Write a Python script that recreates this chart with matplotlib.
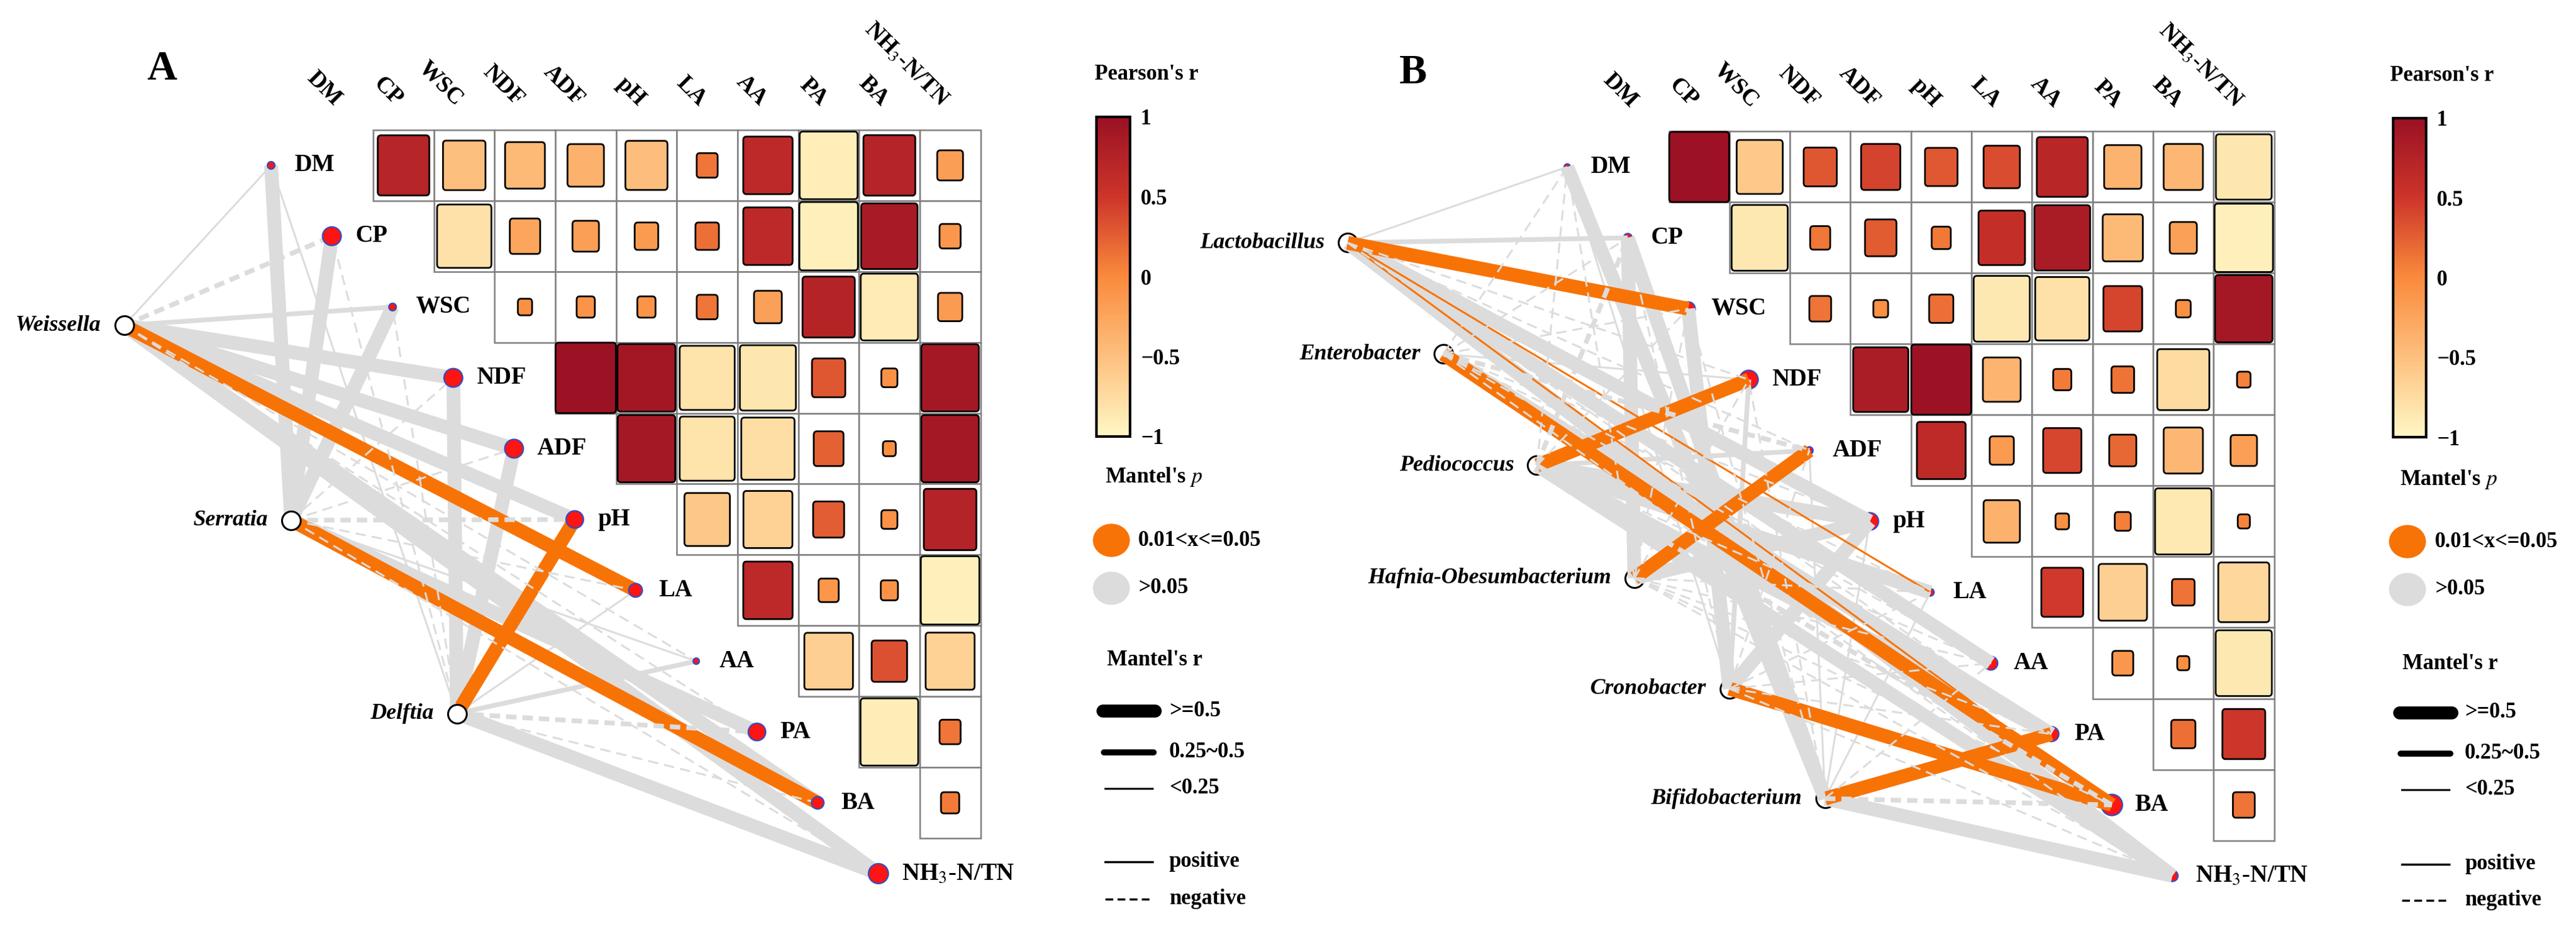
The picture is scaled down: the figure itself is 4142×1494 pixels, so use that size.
import numpy as np
import matplotlib
matplotlib.use("Agg")
import matplotlib.pyplot as plt
from matplotlib.patches import FancyBboxPatch, Rectangle, Ellipse
from matplotlib.colors import LinearSegmentedColormap, Normalize
from matplotlib.colorbar import ColorbarBase

plt.rcParams["font.family"] = ["Liberation Serif", "DejaVu Serif"]
plt.rcParams["mathtext.fontset"] = "stix"
plt.rcParams["lines.scale_dashes"] = False

# ---------------- data ----------------
env_names = ["DM", "CP", "WSC", "NDF", "ADF", "pH", "LA", "AA", "PA", "BA", "NH3-N/TN"]
env_labels = ["DM", "CP", "WSC", "NDF", "ADF", "pH", "LA", "AA", "PA", "BA", r"NH$_3$-N/TN"]

# Pearson's r between environmental factors (upper triangle, row k = env k vs env k+1..)
pearson_A = [
    [0.72, -0.49, -0.43, -0.36, -0.48, 0.12, 0.66, -0.91, 0.73, -0.18],
    [-0.80, -0.25, -0.19, -0.15, 0.15, 0.66, -0.93, 0.86, -0.12],
    [-0.055, -0.09, -0.09, 0.12, -0.21, 0.74, -0.89, -0.16],
    [0.99, 0.91, -0.82, -0.85, 0.30, -0.07, 0.90],
    [0.90, -0.82, -0.77, 0.24, -0.045, 0.90],
    [-0.56, -0.65, 0.26, -0.07, 0.75],
    [0.66, -0.11, -0.08, -0.93],
    [-0.64, 0.34, -0.65],
    [-0.90, 0.12],
    [0.09],
]
pearson_B = [
    [0.98, -0.58, 0.30, 0.42, 0.29, 0.36, 0.71, -0.38, -0.42, -0.85],
    [-0.86, 0.11, 0.27, 0.10, 0.59, 0.85, -0.44, -0.20, -0.93],
    [0.13, -0.06, 0.16, -0.86, -0.80, 0.41, -0.06, 0.90],
    [0.83, 0.98, -0.39, 0.09, 0.14, -0.74, 0.05],
    [0.65, -0.16, 0.40, 0.20, -0.42, -0.19],
    [-0.36, -0.05, 0.07, -0.87, 0.04],
    [0.48, -0.64, 0.14, -0.71],
    [-0.12, -0.04, -0.86],
    [0.16, 0.50],
    [0.13],
]

# Mantel tests: genus vs each environmental factor
microbes_A = ["Weissella", "Serratia", "Delftia"]
mantel_r_A = [
    [0.18, -0.32, 0.28, 0.56, 0.55, 0.52, 0.58, -0.20, -0.15, 0.53, 0.57],
    [0.55, 0.54, 0.52, -0.15, -0.16, -0.30, -0.14, 0.16, 0.53, 0.57, -0.13],
    [0.16, -0.14, -0.12, 0.54, 0.55, 0.51, 0.15, 0.30, -0.28, -0.17, 0.56],
]
mantel_p_A = [
    [0.41, 0.22, 0.35, 0.09, 0.11, 0.08, 0.03, 0.47, 0.60, 0.12, 0.07],
    [0.10, 0.09, 0.13, 0.52, 0.48, 0.33, 0.61, 0.44, 0.07, 0.02, 0.55],
    [0.38, 0.58, 0.62, 0.08, 0.10, 0.04, 0.45, 0.26, 0.31, 0.57, 0.06],
]

microbes_B = ["Lactobacillus", "Enterobacter", "Pediococcus",
              "Hafnia-Obesumbacterium", "Cronobacter", "Bifidobacterium"]
mantel_r_B = [
    [0.17, 0.33, 0.58, -0.14, -0.18, 0.54, 0.16, 0.55, -0.20, 0.16, 0.52],
    [-0.14, -0.15, -0.13, 0.15, -0.30, -0.16, -0.14, -0.12, 0.53, 0.56, -0.15],
    [-0.16, -0.30, -0.14, 0.57, 0.32, 0.55, 0.52, -0.15, 0.54, -0.28, 0.53],
    [-0.13, 0.52, -0.15, -0.16, 0.55, 0.53, -0.14, -0.17, -0.15, -0.13, -0.16],
    [0.15, -0.14, 0.52, 0.30, -0.15, 0.54, -0.16, -0.13, -0.14, 0.57, -0.15],
    [0.55, 0.53, -0.14, -0.13, 0.14, 0.15, 0.16, -0.17, 0.51, -0.30, 0.56],
]
mantel_p_B = [
    [0.30, 0.20, 0.02, 0.50, 0.40, 0.09, 0.04, 0.10, 0.40, 0.04, 0.08],
    [0.50, 0.50, 0.60, 0.40, 0.20, 0.50, 0.50, 0.60, 0.10, 0.03, 0.50],
    [0.50, 0.30, 0.50, 0.02, 0.20, 0.10, 0.10, 0.50, 0.10, 0.30, 0.10],
    [0.50, 0.10, 0.50, 0.50, 0.03, 0.10, 0.60, 0.50, 0.50, 0.50, 0.50],
    [0.40, 0.50, 0.10, 0.20, 0.50, 0.10, 0.50, 0.50, 0.50, 0.02, 0.50],
    [0.10, 0.10, 0.50, 0.50, 0.50, 0.50, 0.50, 0.50, 0.04, 0.20, 0.10],
]

# ---------------- layout / style ----------------
W, H = 4142, 1494
fig = plt.figure(figsize=(W / 100, H / 100), dpi=100)

cmap = LinearSegmentedColormap.from_list(
    "pearson", [(0, "#FFF7C4"), (0.25, "#FDC07F"), (0.5, "#FA8A3C"),
                (0.75, "#CD352A"), (1, "#9A1124")])
norm = Normalize(-1, 1)
ORANGE = "#F87306"
GREY = "#DCDCDC"

layout_A = dict(px_x=(0, 1700), grid_left=600, grid_top=209, colw=97.65, rowh=113.9,
                microbe_pos=[(-3.60, 2.26), (-0.85, 5.01), (1.88, 7.74)],
                node_d=[12, 30, 12, 30, 30, 28, 22, 10, 28, 20, 32],
                nodes_on_top=True)
layout_B = dict(px_x=(2080, 3800), grid_left=2683.5, grid_top=211.5, colw=97.3, rowh=114,
                microbe_pos=[(-4.81, 1.07), (-3.23, 2.64), (-1.68, 4.21),
                             (-0.07, 5.80), (1.50, 7.36), (3.08, 8.91)],
                node_d=[10, 14, 22, 30, 12, 28, 12, 22, 24, 34, 18],
                nodes_on_top=False)


def edge_width(r):
    a = abs(r)
    if a >= 0.5:
        return 16
    if a >= 0.25:
        return 5.5
    return 2.2


def draw_panel(lay, pearson, microbes, mr, mp):
    x0, x1 = lay["px_x"]
    gl, gt, cw, rh = lay["grid_left"], lay["grid_top"], lay["colw"], lay["rowh"]
    ax = fig.add_axes([x0 / W, 0, (x1 - x0) / W, 1])
    ax.set_xlim((x0 - gl) / cw + 0.5, (x1 - gl) / cw + 0.5)
    ax.set_ylim((H - gt) / rh - 0.5, (0 - gt) / rh - 0.5)
    ax.axis("off")
    n = len(env_names)

    # correlation heatmap (upper triangle)
    for i, row in enumerate(pearson):
        for k, r in enumerate(row):
            j = i + 1 + k
            ax.add_patch(Rectangle((j - 0.5, i - 0.5), 1, 1, fc="white",
                                   ec="#808080", lw=1.8, zorder=1))
            s = np.sqrt(abs(r))
            ax.add_patch(FancyBboxPatch((j - s / 2, i - s / 2), s, s,
                                        boxstyle="round,pad=0,rounding_size=0.05",
                                        fc=cmap(norm(r)), ec="black", lw=2, zorder=2))
    for j, lab in enumerate(env_labels):
        ax.text(j + 0.05, -0.78, lab, rotation=-45, ha="right", va="bottom",
                fontsize=27, fontweight="bold")

    ex = np.arange(n) - 1.18
    ey = np.arange(n)

    # mantel links
    edges = []
    for (mx, my), rs, ps in zip(lay["microbe_pos"], mr, mp):
        for i in range(n):
            sig = 0.01 < ps[i] <= 0.05
            col = ORANGE if sig else GREY
            ls = "-" if rs[i] >= 0 else (0, (12, 7))
            order = 1 if sig else (0 if rs[i] >= 0 else 2)
            edges.append((order, mx, my, ex[i], ey[i], col, ls, edge_width(rs[i])))
    edges.sort(key=lambda e: e[0])
    for order, mx, my, x, y, col, ls, lw in edges:
        ax.plot([mx, x], [my, y], color=col, ls=ls, lw=lw,
                solid_capstyle="butt", dash_capstyle="butt", zorder=4 + order * 0.1)

    nz = 6 if lay["nodes_on_top"] else 3
    sizes = [(0.72 * d) ** 2 for d in lay["node_d"]]
    ax.scatter(ex, ey, s=sizes, c="#FF1414", edgecolors="#2E4FC8", linewidths=1.6, zorder=nz)
    for i, lab in enumerate(env_labels):
        ax.text(ex[i] + 0.38, ey[i], lab, ha="left", va="center",
                fontsize=28, fontweight="bold", zorder=7)

    mpos = np.array(lay["microbe_pos"])
    ax.scatter(mpos[:, 0], mpos[:, 1], s=(0.72 * 30) ** 2, c="white",
               edgecolors="black", linewidths=2.2, zorder=nz)
    for (mx, my), name in zip(lay["microbe_pos"], microbes):
        ax.text(mx - 0.38, my, name, ha="right", va="center", fontsize=26,
                fontweight="bold", fontstyle="italic", zorder=7)
    return ax


draw_panel(layout_A, pearson_A, microbes_A, mantel_r_A, mantel_p_A)
draw_panel(layout_B, pearson_B, microbes_B, mantel_r_B, mantel_p_B)

# ---------------- legends ----------------
ov = fig.add_axes([0, 0, 1, 1])
ov.set_xlim(0, W)
ov.set_ylim(H, 0)
ov.axis("off")

ov.text(260, 112, "A", fontsize=48, fontweight="bold", ha="center", va="center")
ov.text(2272, 118, "B", fontsize=48, fontweight="bold", ha="center", va="center")

bold = dict(fontsize=25, fontweight="bold", va="center")
legend_pos = [
    dict(title_x=1760, title_y=119, bar=(1763, 188, 54, 514), p_x=1777, p_y=767,
         ell_x=1787, ell_y=(869, 946), lab_x=1830, r_x=1780, r_y=1062,
         line_x=(1763, 1867), line_y=(1143, 1210, 1268, 1386, 1446), rlab_x=1880),
    dict(title_x=3843, title_y=122, bar=(3848, 190, 53, 513), p_x=3859, p_y=771,
         ell_x=3871, ell_y=(871, 948), lab_x=3915, r_x=3863, r_y=1067,
         line_x=(3848, 3952), line_y=(1146, 1212, 1270, 1390, 1448), rlab_x=3963),
]
for L in legend_pos:
    ov.text(L["title_x"], L["title_y"], "Pearson's r", ha="left", **bold)
    bx, by, bw, bh = L["bar"]
    cax = fig.add_axes([bx / W, 1 - (by + bh) / H, bw / W, bh / H])
    cb = ColorbarBase(cax, cmap=cmap, norm=norm, ticks=[-1, -0.5, 0, 0.5, 1])
    cb.set_ticklabels(["\u22121", "\u22120.5", "0", "0.5", "1"])
    cb.outline.set_linewidth(3)
    cax.tick_params(length=0, pad=12, labelsize=25)
    for t in cax.get_yticklabels():
        t.set_fontweight("bold")

    ov.text(L["p_x"], L["p_y"], r"Mantel's $\it{p}$", ha="left", **bold)
    ov.add_patch(Ellipse((L["ell_x"], L["ell_y"][0]), 58, 52, color=ORANGE))
    ov.add_patch(Ellipse((L["ell_x"], L["ell_y"][1]), 58, 52, color=GREY))
    ov.text(L["lab_x"], L["ell_y"][0], "0.01<x<=0.05", ha="left", **bold)
    ov.text(L["lab_x"], L["ell_y"][1], ">0.05", ha="left", **bold)

    ov.text(L["r_x"], L["r_y"], "Mantel's r", ha="left", **bold)
    lx0, lx1 = L["line_x"]
    ly = L["line_y"]
    ov.plot([lx0 + 10, lx1 - 10], [ly[0]] * 2, color="black", lw=15, solid_capstyle="round")
    ov.plot([lx0 + 12, lx1 - 12], [ly[1]] * 2, color="black", lw=7, solid_capstyle="round")
    ov.plot([lx0 + 14, lx1 - 14], [ly[2]] * 2, color="black", lw=2.2)
    ov.plot([lx0 + 14, lx1 - 14], [ly[3]] * 2, color="black", lw=2.5)
    ov.plot([lx0 + 14, lx1 - 14], [ly[4]] * 2, color="black", lw=2.5, ls=(0, (9, 5)))
    for y, lab in zip(ly, [">=0.5", "0.25~0.5", "<0.25", "positive", "negative"]):
        ov.text(L["rlab_x"], y, lab, ha="left", **bold)

fig.savefig("out.png", dpi=100, facecolor="white")
